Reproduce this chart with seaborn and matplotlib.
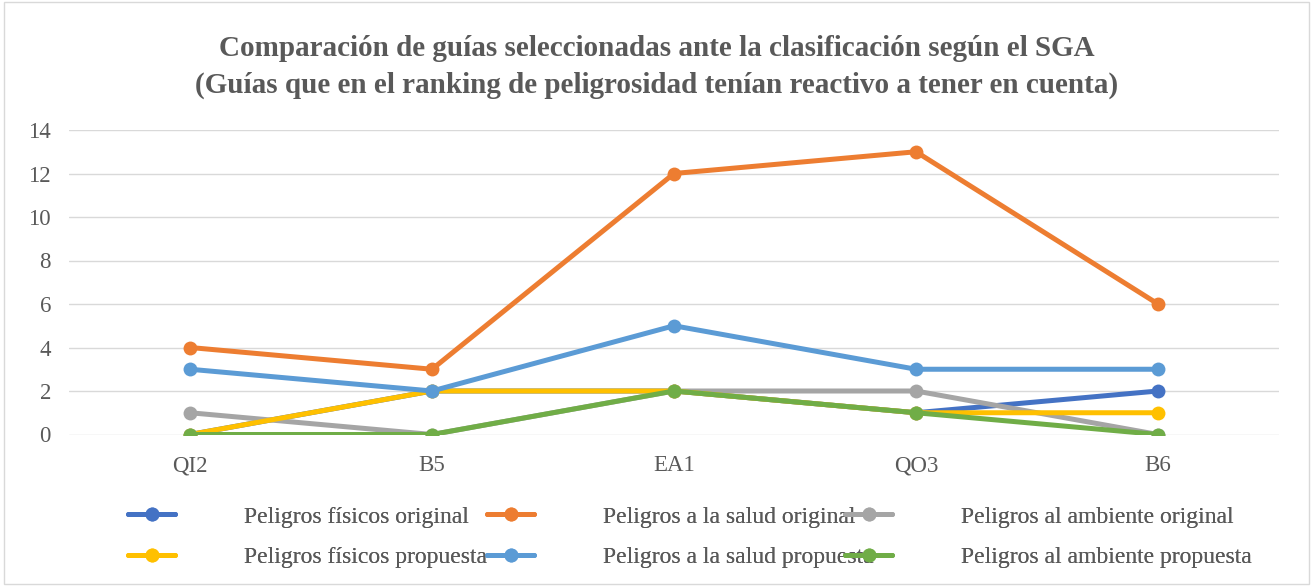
import numpy as np
import pandas as pd
import matplotlib.pyplot as plt
import seaborn as sns
from matplotlib.patches import Rectangle

# data
guias = ['QI2', 'B5', 'EA1', 'QO3', 'B6']
fisicos_original = [0, 2, 2, 1, 2]
salud_original = [4, 3, 12, 13, 6]
ambiente_original = [1, 0, 2, 2, 0]
fisicos_propuesta = [0, 2, 2, 1, 1]
salud_propuesta = [3, 2, 5, 3, 3]
ambiente_propuesta = [0, 0, 2, 1, 0]

series = {
    'Peligros físicos original': fisicos_original,
    'Peligros a la salud original': salud_original,
    'Peligros al ambiente original': ambiente_original,
    'Peligros físicos propuesta': fisicos_propuesta,
    'Peligros a la salud propuesta': salud_propuesta,
    'Peligros al ambiente propuesta': ambiente_propuesta,
}
colores = ['#4472C4', '#ED7D31', '#A5A5A5', '#FFC000', '#5B9BD5', '#70AD47']

sns.set_style('white')
plt.rcParams['font.family'] = ['Liberation Serif', 'DejaVu Serif']

W, H = 1313, 586
fig = plt.figure(figsize=(W / 100, H / 100), dpi=100)
ax = fig.add_axes([69 / W, 1 - 434.5 / H, (1279 - 69) / W, (434.5 - 130) / H])

for (nombre, valores), c in zip(series.items(), colores):
    df = pd.DataFrame({'x': np.arange(len(guias)), 'y': valores})
    sns.lineplot(data=df, x='x', y='y', ax=ax, color=c, lw=3.6,
                 marker='o', markersize=10, markeredgewidth=0, label=nombre)

ax.set_xlim(-0.5, len(guias) - 0.5)
ax.set_ylim(0, 14)
ax.set_yticks(range(0, 15, 2))
ax.set_xticks(range(len(guias)))
ax.set_xticklabels(guias)
ax.set_xlabel('')
ax.set_ylabel('')
ax.grid(axis='y', color='#D9D9D9', lw=1)
ax.set_axisbelow(True)
for s in ax.spines.values():
    s.set_visible(False)
ax.tick_params(axis='both', length=0, labelsize=16.5, labelcolor='#595959')
ax.tick_params(axis='x', pad=15)
ax.tick_params(axis='y', pad=13)

fig.text(0.5, 1 - 48 / H, 'Comparación de guías seleccionadas ante la clasificación según el SGA',
         ha='center', va='center', fontsize=21, fontweight='bold', color='#595959')
fig.text(0.5, 1 - 85 / H, '(Guías que en el ranking de peligrosidad tenían reactivo a tener en cuenta)',
         ha='center', va='center', fontsize=21, fontweight='bold', color='#595959')

# legend: three fixed-width columns like Excel
h, l = ax.get_legend_handles_labels()
ax.get_legend().remove()
columnas = [(0, 3), (1, 4), (2, 5)]
x_col = [128, 487, 845]
for (a, b), x0 in zip(columnas, x_col):
    leg = fig.legend([h[a], h[b]], [l[a], l[b]], loc='center left',
                     bbox_to_anchor=(x0 / W, 1 - 537 / H), frameon=False,
                     fontsize=17, handlelength=2.0, handletextpad=2.9,
                     labelspacing=0.8, labelcolor='#595959',
                     borderpad=0, borderaxespad=0)
    fig.add_artist(leg)

fig.patches.append(Rectangle((0.003, 0.003), 0.994, 0.994, transform=fig.transFigure,
                             fill=False, edgecolor='#D9D9D9', lw=1))

fig.savefig('out.png', dpi=100)
